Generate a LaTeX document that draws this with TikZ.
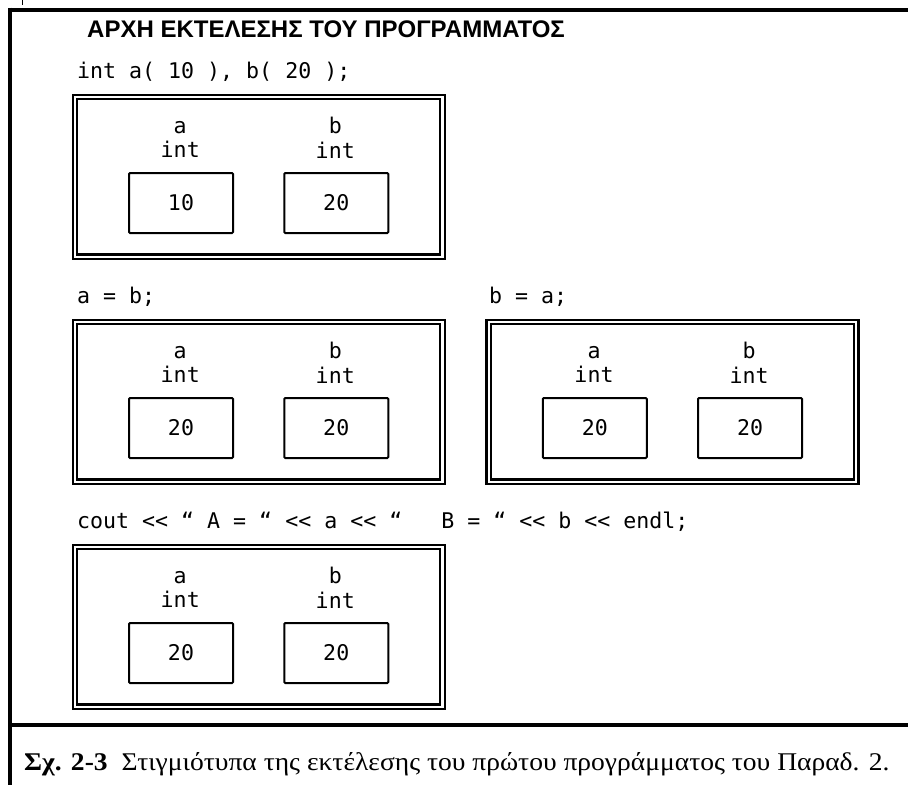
\documentclass[tikz,border=0pt]{standalone}
\usepackage{fontspec}
\setmainfont{Liberation Serif}
\newfontfamily\codefont{DejaVu Sans Mono}
\newfontfamily\headfont{Liberation Sans}
\newfontfamily\capfont[FakeStretch=1.08]{Liberation Serif}
\begin{document}
\begin{tikzpicture}[x=1pt,y=-1pt,
  code/.style={font=\codefont\fontsize{21.6}{24}\selectfont, inner sep=0pt, anchor=base},
  snapframe/.style={draw, double, double distance=2.2pt, line width=2.3pt,
    minimum width=367.5pt, minimum height=159.75pt, inner sep=0pt, anchor=north west},
  cell/.style={draw, line width=2pt, rounded corners=1pt, minimum width=104pt,
    minimum height=60pt, inner sep=0pt, anchor=north west,
    font=\codefont\fontsize{21.6}{24}\selectfont},
  rulestroke/.style={line width=4pt}]
\useasboundingbox (0,0) rectangle (908,785);

% page frame: top rule, left rule and the rule above the caption
\draw[rulestroke] (8.3,9.5) -- (908,9.5);
\draw[rulestroke] (10.3,7.5) -- (10.3,785);
\draw[rulestroke] (10.3,725) -- (908,725);
\draw[line width=0.8pt] (22.5,0) -- (22.5,5);

% heading
\node[font=\headfont\bfseries\fontsize{24}{26}\selectfont, anchor=base west, inner sep=0pt]
  (title) at (87,37.3) {ΑΡΧΗ ΕΚΤΕΛΕΣΗΣ ΤΟΥ ΠΡΟΓΡΑΜΜΑΤΟΣ};

% statements
\node[code, anchor=base west] (stmt1) at (77,78) {int a( 10 ), b( 20 );};
\node[code, anchor=base west] (stmt2) at (77,303) {a = b;};
\node[code, anchor=base west] (stmt3) at (489,303) {b = a;};
\node[code, anchor=base west] (stmt4) at (77,528)
  {cout << “ A = “ << a << “\ \ \ B = “ << b << endl;};

% memory snapshots: frame, the two variables and their values
\foreach \n/\X/\Y/\va/\vb in {1/73.75/95.75/10/20, 2/73.75/320.75/20/20,
                             3/487.5/320.75/20/20, 4/73.75/545.75/20/20}{
  \node[snapframe] (snap\n) at (\X,\Y) {};
  \node[cell] (vala\n) at (\X+54.25,\Y+76.25) {\va};
  \node[cell] (valb\n) at (\X+209.5,\Y+76.25) {\vb};
  \node[code] (namea\n) at (\X+106.5,\Y+37.5) {a};
  \node[code] (typea\n) at (\X+106.5,\Y+62) {int};
  \node[code] (nameb\n) at (\X+261.5,\Y+38) {b};
  \node[code] (typeb\n) at (\X+261.5,\Y+62.5) {int};
}

% caption
\node[anchor=base west, inner sep=0pt, font=\capfont\fontsize{25.5}{28}\selectfont]
  (caption) at (24,770.7)
  {\textbf{Σχ. 2-3}\hspace{0.55em}Στιγμιότυπα της εκτέλεσης του πρώτου προγράμματος του Παραδ. 2.};
\end{tikzpicture}
\end{document}
